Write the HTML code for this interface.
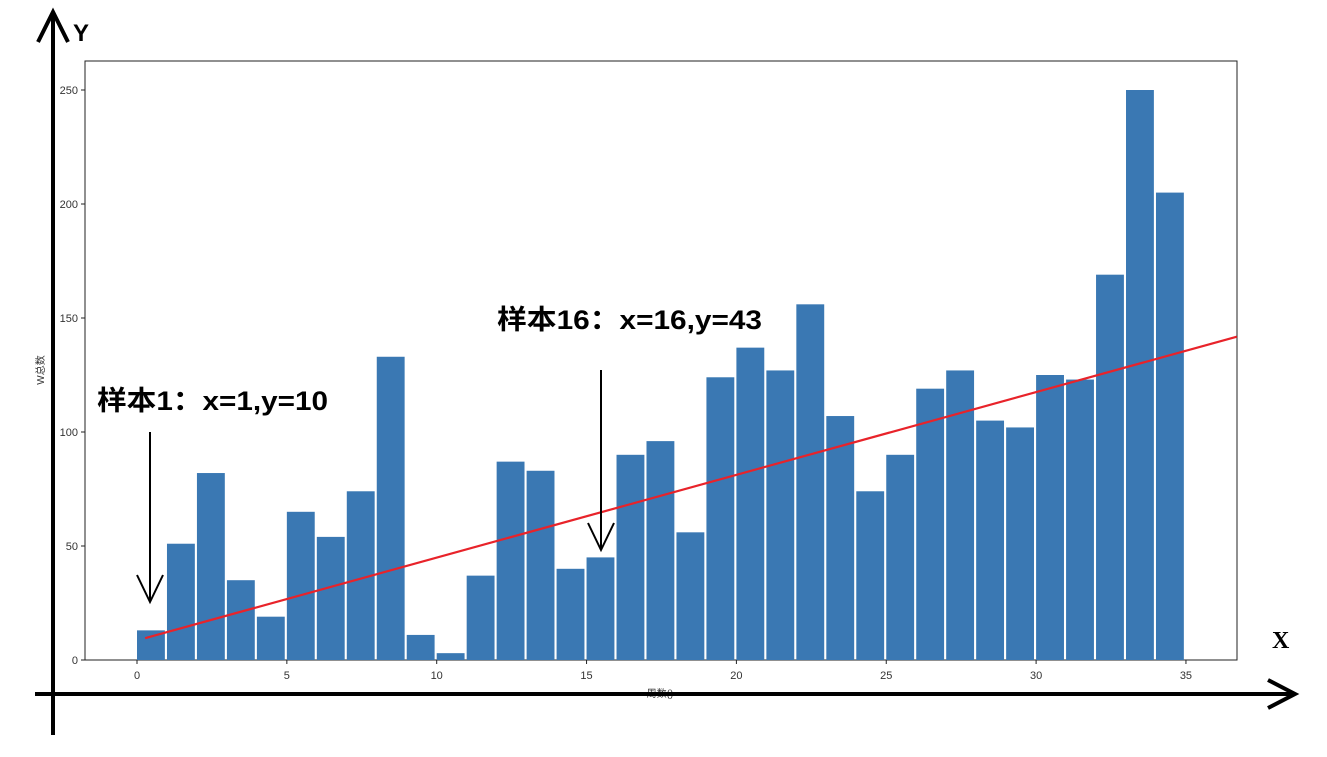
<!DOCTYPE html>
<html><head><meta charset="utf-8"><style>
body{margin:0;background:#fff;}
svg text{font-family:"Liberation Sans","Noto Sans CJK SC",sans-serif;}
</style></head><body>
<svg id="chart" width="1327" height="752" xmlns="http://www.w3.org/2000/svg">
<rect x="85" y="61" width="1152" height="599" fill="none" stroke="#222" stroke-width="1"/>
<g id="bars"></g>
<g id="ticks"></g>
<line id="fit" stroke="#e8232a" stroke-width="2.2"/>
<text x="44" y="370" font-size="10" fill="#333" transform="rotate(-90 44 370)" text-anchor="middle">W总数</text>
<text x="660" y="697" font-size="10" fill="#333" text-anchor="middle">周数()</text>
<line x1="53" y1="12" x2="53" y2="735" stroke="#000" stroke-width="4"/>
<polyline points="38,42 53,12 68,42" fill="none" stroke="#000" stroke-width="4"/>
<line x1="35" y1="694" x2="1295" y2="694" stroke="#000" stroke-width="4"/>
<polyline points="1268,680 1295,694 1268,708" fill="none" stroke="#000" stroke-width="4"/>
<text x="73" y="41" font-size="24" font-weight="bold">Y</text>
<text x="1272" y="648" font-size="24" font-weight="bold" style="font-family:'Liberation Serif',serif">X</text>
<text x="97" y="410" font-size="27" font-weight="bold" textLength="231" lengthAdjust="spacingAndGlyphs">样本1：x=1,y=10</text>
<line x1="150" y1="432" x2="150" y2="602" stroke="#000" stroke-width="2"/>
<polyline points="137,575 150,602 163,575" fill="none" stroke="#000" stroke-width="2"/>
<text x="497" y="329" font-size="27" font-weight="bold" textLength="265" lengthAdjust="spacingAndGlyphs">样本16：x=16,y=43</text>
<line x1="601" y1="370" x2="601" y2="550" stroke="#000" stroke-width="2"/>
<polyline points="588,523 601,550 614,523" fill="none" stroke="#000" stroke-width="2"/>
</svg>
<script>
const values=[13,51,82,35,19,65,54,74,133,11,3,37,87,83,40,45,90,96,56,124,137,127,156,107,74,90,119,127,105,102,125,123,169,250,205];
const xTicks=[0,5,10,15,20,25,30,35];
const yTicks=[0,50,100,150,200,250];
const fitIntercept=8.6, fitSlope=3.63;
const fitRange=[0.27,36.7];
const NS="http://www.w3.org/2000/svg";
const xs=v=>137+v*29.97, ys=v=>660-v*2.28;
const bars=document.getElementById('bars'), ticks=document.getElementById('ticks');
values.forEach((v,i)=>{
 const r=document.createElementNS(NS,'rect');
 
 
 r.setAttribute('x',xs(i));r.setAttribute('width',29.97*0.93);
 r.setAttribute('y',ys(v));r.setAttribute('height',660-ys(v));
 r.setAttribute('fill','#3a78b3');
 bars.appendChild(r);
});
xTicks.forEach(t=>{
 const l=document.createElementNS(NS,'line');
 
 
 l.setAttribute('x1',xs(t));l.setAttribute('x2',xs(t));l.setAttribute('y1',660);l.setAttribute('y2',664);l.setAttribute('stroke','#222');
 ticks.appendChild(l);
 const tx=document.createElementNS(NS,'text');
 
 
 tx.setAttribute('x',xs(t));tx.setAttribute('y',679);tx.setAttribute('font-size','11');tx.setAttribute('fill','#333');tx.setAttribute('text-anchor','middle');
 tx.textContent=t;ticks.appendChild(tx);
});
yTicks.forEach(t=>{
 const l=document.createElementNS(NS,'line');
 
 
 l.setAttribute('x1',81);l.setAttribute('x2',85);l.setAttribute('y1',ys(t));l.setAttribute('y2',ys(t));l.setAttribute('stroke','#222');
 ticks.appendChild(l);
 const tx=document.createElementNS(NS,'text');
 
 
 tx.setAttribute('x',78);tx.setAttribute('y',ys(t)+4);tx.setAttribute('font-size','11');tx.setAttribute('fill','#333');tx.setAttribute('text-anchor','end');
 tx.textContent=t;ticks.appendChild(tx);
});
const f=document.getElementById('fit');
f.setAttribute('x1',xs(fitRange[0]));f.setAttribute('y1',ys(fitIntercept+fitSlope*fitRange[0]));
f.setAttribute('x2',xs(fitRange[1]));f.setAttribute('y2',ys(fitIntercept+fitSlope*fitRange[1]));
</script>
</body></html>
